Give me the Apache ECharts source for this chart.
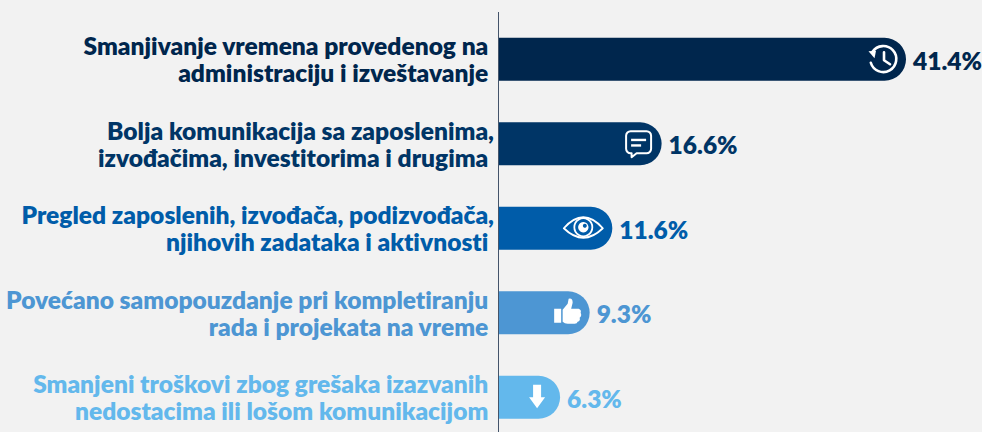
<!DOCTYPE html>
<html><head><meta charset="utf-8">
<style>html,body{margin:0;padding:0;background:#f2f2f2;overflow:hidden;height:432px}#c{width:982px;height:460px}#c text{font-variant-ligatures:none !important}</style>
<script src="https://cdn.jsdelivr.net/npm/echarts@6/dist/echarts.min.js"></script>
</head><body><div id="c"></div>
<script>
const categories = [
  "Smanjivanje vremena provedenog na \nadministraciju i izveštavanje ",
  "Bolja komunikacija sa zaposlenima,\nizvođačima, investitorima i drugima ",
  "Pregled zaposlenih, izvođača, podizvođača,\nnjihovih zadataka i aktivnosti ",
  "Povećano samopouzdanje pri kompletiranju \nrada i projekata na vreme ",
  "Smanjeni troškovi zbog grešaka izazvanih \nnedostacima ili lošom komunikacijom "
];
const values = [41.4, 16.6, 11.6, 9.3, 6.3];
const colors = ["#00264d", "#003566", "#005ca9", "#4d96d3", "#63b8ec"];
const icons = ["clock", "chat", "eye", "thumb", "down"];
const W = "#ffffff";
const line = (s) => ({fill: "none", stroke: W, lineWidth: 2.4, lineCap: "round", lineJoin: "round", ...s});
function iconShapes(name) {
  if (name === "clock") return {dx: -23, kids: [
    {type: "path", shape: {pathData: "M-10.5 -7.5A13 13 0 1 1 -12.2 3.5", layout: "none"}, style: line({lineWidth: 2.6})},
    {type: "polygon", shape: {points: [[-14.5, -8], [-7, -8.5], [-8.5, -1], ]}, style: {fill: W}},
    {type: "polyline", shape: {points: [[1, -7], [1, 1], [7, 5]]}, style: line({lineWidth: 2.6})}
  ]};
  if (name === "chat") return {dx: -23, kids: [
    {type: "path", shape: {pathData: "M-8 -12.5H8A4.5 4.5 0 0 1 12.5 -8V5A4.5 4.5 0 0 1 8 9.5H-2L-7 13.5V9.5H-8A4.5 4.5 0 0 1 -12.5 5V-8A4.5 4.5 0 0 1 -8 -12.5Z"}, style: line({lineWidth: 2})},
    {type: "rect", shape: {x: -7.5, y: -5, width: 15, height: 2.4}, style: {fill: W}},
    {type: "rect", shape: {x: -7.5, y: 0.5, width: 10, height: 2.4}, style: {fill: W}}
  ]};
  if (name === "eye") return {dx: -29, kids: [
    {type: "path", shape: {pathData: "M-19.5 0Q0 -22 19.5 0Q0 19 -19.5 0Z"}, style: line({lineWidth: 1.8})},
    {type: "circle", shape: {cx: 0, cy: -1, r: 9}, style: line({lineWidth: 1.8})},
    {type: "circle", shape: {cx: 0, cy: -1, r: 5.2}, style: {fill: W}},
    {type: "circle", shape: {cx: 1.5, cy: -2.5, r: 2}, style: {fill: colors[2]}}
  ]};
  if (name === "thumb") return {dx: -22, kids: [
    {type: "rect", shape: {x: -13.5, y: -4, width: 7, height: 14}, style: {fill: W}},
    {type: "path", shape: {pathData: "M-5 -3L0 -9L1 -14Q5 -15 5 -10L3.5 -4H11Q14 -3 13 0Q14.5 3 12 5Q13 8 10 9Q9.5 11 7 11H0Q-3 11 -5 9Z"}, style: {fill: W}}
  ]};
  return {dx: -23, kids: [
    {type: "polygon", shape: {points: [[-4, -12.5], [4, -12.5], [4, 0], [8, 0], [0, 11], [-8, 0], [-4, 0]]}, style: {fill: W}}
  ]};
}
const chart = echarts.init(document.getElementById("c"), null, {renderer: "svg"});
chart.setOption({
  backgroundColor: "#f2f2f2",
  animation: false,
  grid: {left: 498, top: 17, right: 0, height: 422.5, containLabel: false},
  xAxis: {type: "value", min: 0, max: 49.11, show: false},
  yAxis: {
    type: "category", inverse: true, data: categories,
    axisLine: {show: false}, axisTick: {show: false},
    axisLabel: {
      margin: 4, align: "right", fontFamily: "Lato", fontWeight: 800, fontSize: 24.55, lineHeight: 27,
      padding: [6, 0, 0, 0],
      color: (v, i) => colors[i === undefined ? categories.indexOf(v) : i]
    }
  },
  graphic: [{type: "rect", silent: true, shape: {x: 498, y: 12, width: 1, height: 420}, style: {fill: "#44546a"}, z: 10}],
  series: [
    {
      type: "bar", barWidth: 43, 
      data: values.map((v, i) => ({value: v, itemStyle: {color: colors[i], borderRadius: [0, 21.5, 21.5, 0]}, label: {color: colors[i]}})),
      label: {show: true, position: "right", distance: 7, offset: [0, 1], fontFamily: "Lato", fontWeight: 800, fontSize: 24.5, formatter: (p) => p.value.toFixed(1) + "%"}
    },
    {
      type: "custom", z: 5,
      data: values.map((v, i) => [v, i]),
      encode: {x: 0, y: 1},
      renderItem: (params, api) => {
        const p = api.coord([api.value(0), api.value(1)]);
        const ic = iconShapes(icons[params.dataIndex]);
        return {type: "group", x: p[0] + ic.dx, y: p[1], children: ic.kids};
      }
    }
  ]
});
</script></body></html>
